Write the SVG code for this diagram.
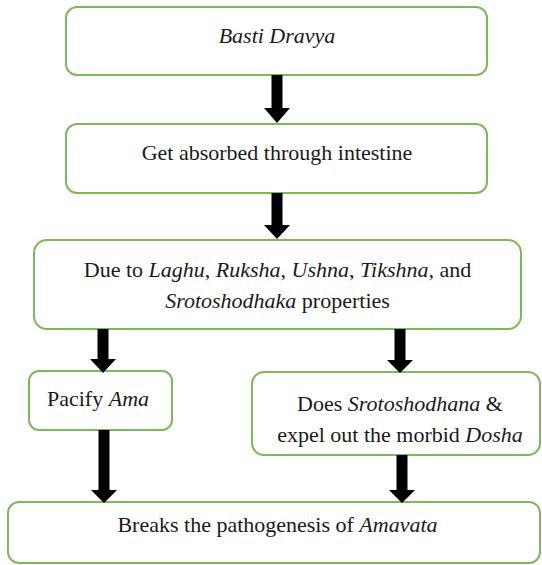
<svg xmlns="http://www.w3.org/2000/svg" width="542" height="565" viewBox="0 0 542 565">
<style>
.box{fill:#ffffff;stroke:#7db85a;stroke-width:2}
.t{font-size:22px;fill:#1a1a1a;text-anchor:middle}
.i{font-style:italic}
.arr{fill:#000000}
</style>
<rect x="0" y="0" width="542" height="565" fill="#ffffff"/>
<g id="node-basti" font-family="'Liberation Serif', 'DejaVu Serif', serif">
<rect class="box" x="66" y="7" width="421" height="68" rx="11"/>
<text class="t" x="277" y="43"><tspan class="i">Basti Dravya</tspan></text>
</g>
<g id="node-absorbed" font-family="'Liberation Serif', 'DejaVu Serif', serif">
<rect class="box" x="66" y="124" width="421" height="69" rx="11"/>
<text class="t" x="277" y="160">Get absorbed through intestine</text>
</g>
<g id="node-properties" font-family="'Liberation Serif', 'DejaVu Serif', serif">
<rect class="box" x="34" y="240" width="487" height="89" rx="13"/>
<text class="t" x="277.5" y="277">Due to <tspan class="i">Laghu</tspan>, <tspan class="i">Ruksha</tspan>, <tspan class="i">Ushna</tspan>, <tspan class="i">Tikshna,</tspan> and</text>
<text class="t" x="277.5" y="308"><tspan class="i">Srotoshodhaka</tspan> properties</text>
</g>
<g id="node-pacify" font-family="'Liberation Serif', 'DejaVu Serif', serif">
<rect class="box" x="29" y="371" width="143" height="59" rx="10"/>
<text class="t" x="98" y="406">Pacify <tspan class="i">Ama</tspan></text>
</g>
<g id="node-does" font-family="'Liberation Serif', 'DejaVu Serif', serif">
<rect class="box" x="252" y="372" width="288" height="83" rx="12"/>
<text class="t" x="400" y="411">Does <tspan class="i">Srotoshodhana</tspan> &amp;</text>
<text class="t" x="400" y="442">expel out the morbid <tspan class="i">Dosha</tspan></text>
</g>
<g id="node-breaks" font-family="'Liberation Serif', 'DejaVu Serif', serif">
<rect class="box" x="8" y="502" width="532" height="61" rx="11"/>
<text class="t" x="277.5" y="532">Breaks the pathogenesis of <tspan class="i">Amavata</tspan></text>
</g>
<g id="connectors">
<polygon class="arr" points="271.5,75 282.5,75 282.5,108 290,108 277,123 264,108 271.5,108"/>
<polygon class="arr" points="271.5,193 282.5,193 282.5,225 290,225 277,239 264,225 271.5,225"/>
<polygon class="arr" points="97.5,329 108.5,329 108.5,359 116,359 103,373 90,359 97.5,359"/>
<polygon class="arr" points="394.5,329 405.5,329 405.5,360 413,360 400,373 387,360 394.5,360"/>
<polygon class="arr" points="98.5,430 109.5,430 109.5,490 117,490 104,503 91,490 98.5,490"/>
<polygon class="arr" points="396.5,455 407.5,455 407.5,490 415,490 402,503 389,490 396.5,490"/>
</g>
</svg>
